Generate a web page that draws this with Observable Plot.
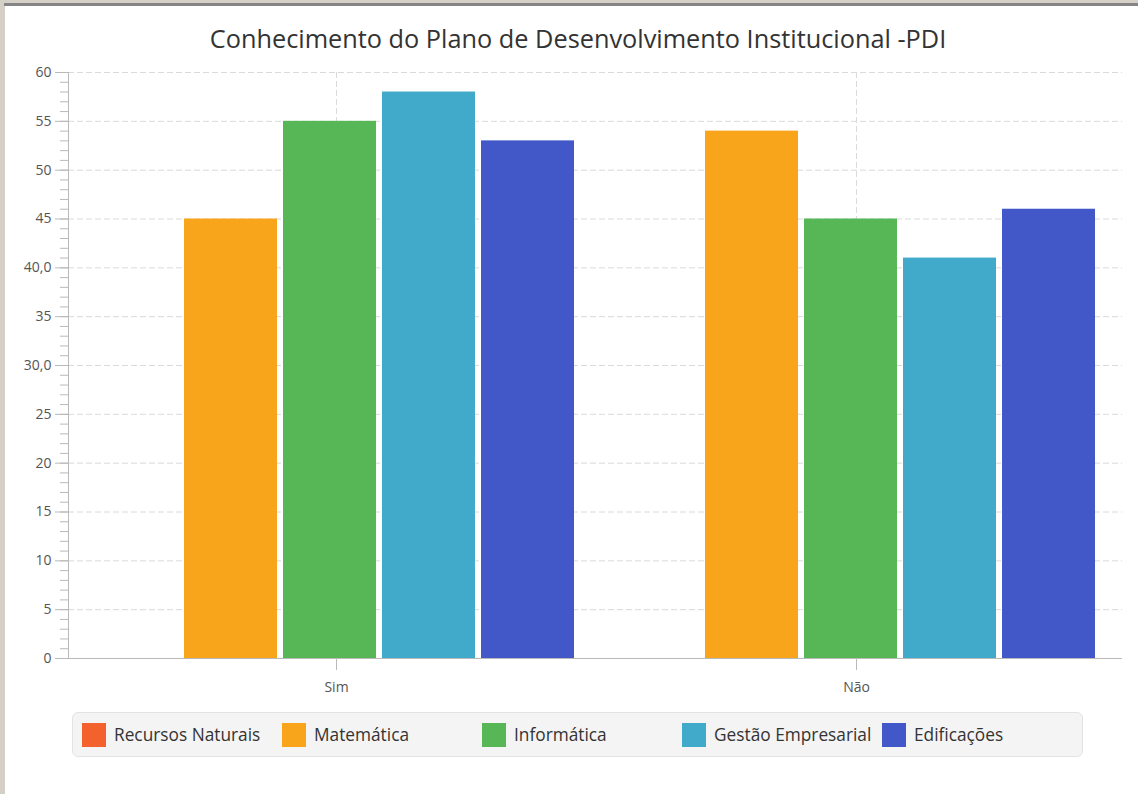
<!DOCTYPE html>
<html>
<head>
<meta charset="utf-8">
<script src="https://cdn.jsdelivr.net/npm/d3@7"></script>
<script src="https://cdn.jsdelivr.net/npm/@observablehq/plot@0.6"></script>
<style>
  html, body { margin: 0; padding: 0; }
  body { width: 1138px; height: 794px; background: #d4d0c8; position: relative; overflow: hidden;
         font-family: "Open Sans", "Noto Sans", sans-serif; }
  #panel { position: absolute; left: 5px; top: 6px; right: 0; bottom: 0; background: #fff; }
  #topline { position: absolute; left: 4px; top: 3px; right: 0; height: 3px; background: #858585; }
  #title { position: absolute; left: 0; width: 1156px; top: 26px; text-align: center; font-size: 25.3px;
           line-height: 25px; color: #333; white-space: nowrap; }
  #bg, #fg { position: absolute; left: 0; top: 60px; }
  #legend { position: absolute; left: 72px; top: 712px; background: #f4f4f4;
            border: 1px solid #e3e3e3; border-radius: 6px; display: flex;
            align-items: center; padding-left: 9px; box-sizing: border-box; width: 1011px; height: 45px; }
  .item { width: 200px; display: flex; align-items: center; flex: none; }
  .sw { width: 24px; height: 24px; margin-right: 8px; flex: none; }
  .lab { font-size: 17.3px; color: #333; white-space: nowrap; }
</style>
</head>
<body>
<div id="panel"></div>
<div id="topline"></div>
<div id="title">Conhecimento do Plano de Desenvolvimento Institucional -PDI</div>
<div id="bg"></div>
<div id="fg"></div>
<div id="legend"></div>
<script>
// ---- data ----
const categories = ["Sim", "Não"];
const series = ["Recursos Naturais", "Matemática", "Informática", "Gestão Empresarial", "Edificações"];
const recursosNaturais = [0, 0];
const matematica = [45, 54];
const informatica = [55, 45];
const gestaoEmpresarial = [58, 41];
const edificacoes = [53, 46];
const seriesColors = ["#f3622d", "#f8a51c", "#57b757", "#41a9c9", "#4258c9"];
const yTicks = [0, 5, 10, 15, 20, 25, 30, 35, 40, 45, 50, 55, 60];
const yTickLabels = ["0", "5", "10", "15", "20", "25", "30,0", "35", "40,0", "45", "50", "55", "60"];
const yMinorTicks = d3.range(0, 61, 1);

const seriesValues = [recursosNaturais, matematica, informatica, gestaoEmpresarial, edificacoes];
const table = categories.flatMap((c, i) =>
  series.map((s, j) => ({category: c, series: s, value: seriesValues[j][i]})));

const font = '"Open Sans", "Noto Sans", sans-serif';
const axisColor = "#b9b9b9";
const gridColor = "#dadada";

// ---- background: grid and axes ----
const bg = Plot.plot({
  width: 1138, height: 640,
  marginTop: 12, marginBottom: 42, marginLeft: 68, marginRight: 16,
  x: {type: "band", domain: categories, range: [76, 1116], padding: 0},
  y: {domain: [0, 60]},
  style: {background: "transparent", fontFamily: font, fontSize: "14px", color: "#555"},
  marks: [
    Plot.gridY(yTicks.slice(1), {stroke: gridColor, strokeOpacity: 1, strokeDasharray: "6,3"}),
    Plot.gridX(categories, {stroke: gridColor, strokeOpacity: 1, strokeDasharray: "6,3"}),
    Plot.axisY(yMinorTicks, {tickSize: 8, stroke: axisColor, fill: "none", tickFormat: () => "", label: null}),
    Plot.axisY(yTicks, {tickSize: 13, tickPadding: 4, stroke: axisColor, fill: "#555", fontSize: 14,
      tickFormat: d => yTickLabels[yTicks.indexOf(d)], label: null}),
    Plot.axisX(categories, {tickSize: 12, tickPadding: 12, stroke: axisColor, fill: "#555", fontSize: 14, label: null}),
    Plot.ruleY([0], {stroke: axisColor}),
    Plot.frame({anchor: "left", stroke: axisColor})
  ]
});
document.getElementById("bg").appendChild(bg);

// ---- foreground: grouped bars ----
const fg = Plot.plot({
  width: 1138, height: 640,
  marginTop: 12, marginBottom: 42, marginLeft: 83, marginRight: 40,
  fx: {domain: categories, paddingInner: 0.0532, paddingOuter: 0, axis: null, label: null},
  x: {domain: series, paddingInner: 0.057, paddingOuter: 0, axis: null},
  y: {domain: [0, 60], axis: null},
  color: {domain: series, range: seriesColors},
  style: {background: "transparent"},
  marks: [
    Plot.barY(table, {fx: "category", x: "series", y: "value", fill: "series"})
  ]
});
document.getElementById("fg").appendChild(fg);

// ---- legend ----
const legend = document.getElementById("legend");
series.forEach((s, i) => {
  const item = document.createElement("div");
  item.className = "item";
  const sw = document.createElement("div");
  sw.className = "sw";
  sw.style.background = seriesColors[i];
  const lab = document.createElement("span");
  lab.className = "lab";
  lab.textContent = s;
  item.appendChild(sw);
  item.appendChild(lab);
  legend.appendChild(item);
});
</script>
</body>
</html>
